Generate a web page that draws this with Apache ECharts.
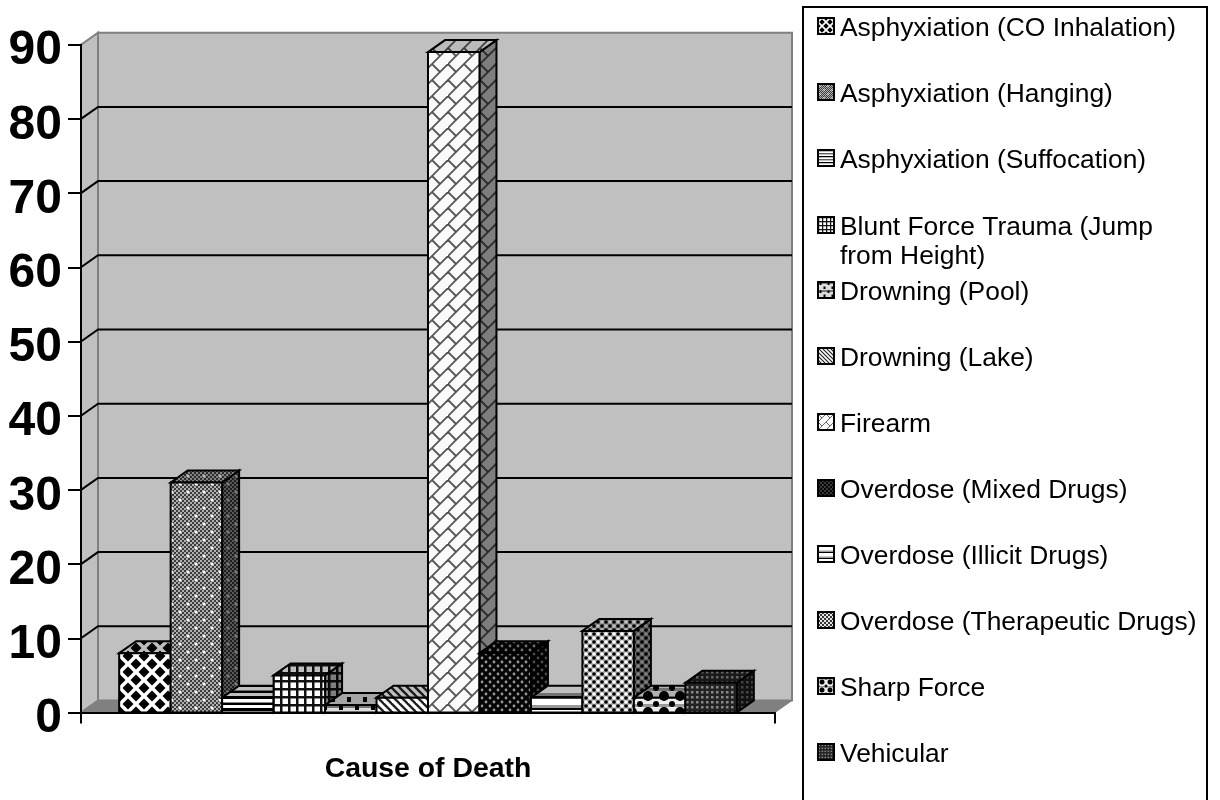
<!DOCTYPE html>
<html>
<head>
<meta charset="utf-8">
<style>
  html, body { margin: 0; padding: 0; background: #fff; }
  #main { width: 1220px; height: 800px; }
</style>
<script src="https://cdn.jsdelivr.net/npm/echarts@6/dist/echarts.min.js"></script>
</head>
<body>
<div id="main"></div>
<script>
const categories = ["Cause of Death"];
const causes = [
  "Asphyxiation (CO Inhalation)",
  "Asphyxiation (Hanging)",
  "Asphyxiation (Suffocation)",
  "Blunt Force Trauma (Jump from Height)",
  "Drowning (Pool)",
  "Drowning (Lake)",
  "Firearm",
  "Overdose (Mixed Drugs)",
  "Overdose (Illicit Drugs)",
  "Overdose (Therapeutic Drugs)",
  "Sharp Force",
  "Vehicular",
];
const counts = [8, 31, 2, 5, 1, 2, 89, 8, 2, 11, 2, 4];
const yTicks = [10, 20, 30, 40, 50, 60, 70, 80];

const DEPTH_X = 17;
const DEPTH_Y = -12;
const BARS_SHARE = 0.89; // share of the category band taken by the 12 bars

// hatch tiles, all drawn on a canvas of size x size
function fillBg(c, s, color) {
  c.fillStyle = color;
  c.fillRect(0, 0, s, s);
}
function dot(c, x, y, r, color) {
  c.fillStyle = color;
  c.beginPath();
  c.arc(x, y, r, 0, Math.PI * 2);
  c.fill();
}
function stripes(c, s, rows) {
  let y = 0;
  rows.forEach(function (r) {
    c.fillStyle = r[0];
    c.fillRect(0, y, s, r[1]);
    y += r[1];
  });
}
function line(c, x0, y0, x1, y1) {
  c.beginPath();
  c.moveTo(x0, y0);
  c.lineTo(x1, y1);
  c.stroke();
}

const hatches = [
  { // diamonds
    size: 16,
    draw: function (c, s) {
      fillBg(c, s, "#fff");
      c.fillStyle = "#000";
      [[0, 0], [16, 0], [0, 16], [16, 16], [8, 8]].forEach(function (p) {
        c.beginPath();
        c.moveTo(p[0] - 5.5, p[1]);
        c.lineTo(p[0], p[1] - 5.5);
        c.lineTo(p[0] + 5.5, p[1]);
        c.lineTo(p[0], p[1] + 5.5);
        c.fill();
      });
    },
  },
  { // fine check with white dots
    size: 16,
    draw: function (c, s) {
      fillBg(c, s, "#3c3c3c");
      c.fillStyle = "#b0b0b0";
      for (let y = 0; y < s; y += 2) {
        for (let x = y % 4; x < s; x += 4) {
          c.fillRect(x, y, 2, 2);
        }
      }
      dot(c, 4, 4, 1.5, "#fff");
      dot(c, 12, 12, 1.5, "#fff");
    },
  },
  { // uneven stripes
    size: 12,
    draw: function (c, s) {
      stripes(c, s, [["#000", 3], ["#fff", 3], ["#888", 1], ["#000", 2], ["#fff", 3]]);
    },
  },
  { // plaid
    size: 8,
    draw: function (c, s) {
      fillBg(c, s, "#fff");
      c.fillStyle = "#111";
      c.fillRect(0, 0, 2.5, s);
      c.fillRect(0, 0, s, 2.5);
    },
  },
  { // squares on light ground
    size: 16,
    draw: function (c, s) {
      fillBg(c, s, "#ddd");
      c.fillStyle = "#777";
      c.fillRect(0, 0, s, 4);
      c.fillStyle = "#000";
      c.fillRect(3, 1, 4, 5);
      c.fillRect(11, 9, 4, 5);
    },
  },
  { // diagonal stripes
    size: 8,
    draw: function (c, s) {
      fillBg(c, s, "#fff");
      c.strokeStyle = "#222";
      c.lineWidth = 2.4;
      line(c, -2, -2, 10, 10);
      line(c, -10, -2, 2, 10);
      line(c, 6, -2, 18, 10);
    },
  },
  { // slanted brick
    size: 32,
    draw: function (c, s) {
      fillBg(c, s, "#fafafa");
      c.strokeStyle = "#555";
      c.lineWidth = 1.8;
      [0, 16, 32, 48].forEach(function (k) {
        line(c, -2, k + 2, k + 2, -2);
      });
      [[0, 0], [16, 16], [16, 0], [0, 16]].forEach(function (p) {
        line(c, p[0], p[1], p[0] + 8, p[1] + 8);
      });
    },
  },
  { // dark ground, grey dots
    size: 8,
    draw: function (c, s) {
      fillBg(c, s, "#050505");
      dot(c, 2, 2, 1.4, "#999");
      dot(c, 6, 6, 1.4, "#999");
    },
  },
  { // stripes
    size: 12,
    draw: function (c, s) {
      stripes(c, s, [["#000", 2], ["#fff", 7], ["#999", 3]]);
    },
  },
  { // black and white dots on grey
    size: 8,
    draw: function (c, s) {
      fillBg(c, s, "#aaa");
      dot(c, 2, 2, 1.8, "#000");
      dot(c, 6, 6, 1.8, "#000");
      dot(c, 6, 2, 1.8, "#fff");
      dot(c, 2, 6, 1.8, "#fff");
    },
  },
  { // circles
    size: 16,
    draw: function (c, s) {
      fillBg(c, s, "#eee");
      c.fillStyle = "#999";
      c.fillRect(0, 0, s, 3);
      dot(c, 8, 8, 5, "#000");
      dot(c, 0, 0, 3, "#000");
      dot(c, 16, 0, 3, "#000");
      dot(c, 0, 16, 3, "#000");
      dot(c, 16, 16, 3, "#000");
    },
  },
  { // small grid
    size: 5,
    draw: function (c, s) {
      fillBg(c, s, "#222");
      c.fillStyle = "#888";
      c.fillRect(1, 1, 2.5, 2.5);
    },
  },
];

function makePattern(hatch, shade, scale) {
  const px = Math.max(2, Math.round(hatch.size * scale));
  const cv = document.createElement("canvas");
  cv.width = px;
  cv.height = px;
  const c = cv.getContext("2d");
  c.scale(px / hatch.size, px / hatch.size);
  hatch.draw(c, hatch.size);
  if (shade > 0) {
    c.fillStyle = "rgba(0,0,0," + shade + ")";
    c.fillRect(0, 0, hatch.size, hatch.size);
  }
  return { image: cv, repeat: "repeat" };
}

const fronts = hatches.map(function (h) { return makePattern(h, 0, 1); });
const tops = hatches.map(function (h) { return makePattern(h, 0.25, 1); });
const sides = hatches.map(function (h) { return makePattern(h, 0.5, 1); });
const swatches = hatches.map(function (h) { return makePattern(h, 0, 0.5); });

function poly(points, fill, stroke, lineWidth) {
  return {
    type: "polygon",
    shape: { points: points },
    style: { fill: fill, stroke: stroke, lineWidth: lineWidth, lineJoin: "miter" },
  };
}

function renderWalls(params, api) {
  const left = params.coordSys.x;
  const right = left + params.coordSys.width;
  const base = api.coord([0, 0])[1];
  const top = api.coord([0, 90])[1];
  const children = [
    poly([[left, base], [left + DEPTH_X, base + DEPTH_Y], [left + DEPTH_X, top + DEPTH_Y], [left, top]], "#c0c0c0", "#808080", 2),
    poly([[left + DEPTH_X, base + DEPTH_Y], [right + DEPTH_X, base + DEPTH_Y], [right + DEPTH_X, top + DEPTH_Y], [left + DEPTH_X, top + DEPTH_Y]], "#c0c0c0", "#808080", 2),
    poly([[left, base], [right, base], [right + DEPTH_X, base + DEPTH_Y], [left + DEPTH_X, base + DEPTH_Y]], "#808080", "#808080", 1),
  ];
  yTicks.forEach(function (v) {
    const y = api.coord([0, v])[1];
    children.push({
      type: "polyline",
      shape: { points: [[left, y], [left + DEPTH_X, y + DEPTH_Y], [right + DEPTH_X, y + DEPTH_Y]] },
      style: { fill: "none", stroke: "#000", lineWidth: 2 },
    });
  });
  return { type: "group", children: children };
}

function renderBar(index) {
  return function (params, api) {
    const band = api.size([1, 0])[0];
    const w = (band * BARS_SHARE) / causes.length;
    const c = api.coord([api.value(0), 0]);
    const t = api.coord([api.value(0), api.value(1)]);
    const x0 = c[0] - (w * causes.length) / 2 + index * w;
    const x1 = x0 + w;
    const y0 = c[1];
    const y1 = t[1];
    return {
      type: "group",
      children: [
        poly([[x1, y0], [x1 + DEPTH_X, y0 + DEPTH_Y], [x1 + DEPTH_X, y1 + DEPTH_Y], [x1, y1]], sides[index], "#000", 2),
        poly([[x0, y1], [x0 + DEPTH_X, y1 + DEPTH_Y], [x1 + DEPTH_X, y1 + DEPTH_Y], [x1, y1]], tops[index], "#000", 2),
        poly([[x0, y0], [x1, y0], [x1, y1], [x0, y1]], fronts[index], "#000", 2),
      ],
    };
  };
}

const series = [
  {
    type: "custom",
    name: "walls",
    z: 1,
    clip: false,
    silent: true,
    renderItem: renderWalls,
    data: [[0, 0]],
  },
].concat(
  causes.map(function (name, i) {
    return {
      type: "custom",
      name: name,
      z: 2,
      clip: false,
      renderItem: renderBar(i),
      encode: { x: 0, y: 1 },
      data: [[0, counts[i]]],
    };
  })
);

const legendFont = {
  color: "#000",
  fontFamily: "Liberation Sans",
  fontSize: 26.4,
  lineHeight: 30,
};

// one legend per entry: the pitch stays even although one label wraps
const legends = causes.map(function (name, i) {
  const wraps = name.indexOf(" from ") > 0;
  const centre = 25 + 66 * i;
  return {
    data: [{
      name: name,
      icon: "rect",
      itemStyle: { color: swatches[i], borderColor: "#000", borderWidth: 2 },
    }],
    left: 817,
    top: wraps ? centre - 41 : centre - 15,
    padding: 0,
    itemWidth: 16,
    itemHeight: 16,
    itemGap: 0,
    selectedMode: false,
    // the blank first line keeps the icon beside the first line of the label
    formatter: function (n) {
      if (n.indexOf(" from ") > 0) {
        const parts = n.split(" from ");
        return "{e| }\n{t|" + parts[0] + "}\n{u|from " + parts[1] + "}";
      }
      return "{t|" + n + "}";
    },
    textStyle: {
      rich: {
        e: legendFont,
        t: Object.assign({ padding: [6, 0, 0, 1] }, legendFont),
        u: Object.assign({ padding: [3, 0, 0, 1] }, legendFont),
      },
    },
  };
});

const chart = echarts.init(document.getElementById("main"), null, { renderer: "canvas" });
chart.setOption({
  animation: false,
  backgroundColor: "#fff",
  tooltip: { show: false },
  legend: legends,
  grid: { left: 81, width: 694, top: 44.7, bottom: 87.5, containLabel: false },
  xAxis: {
    type: "category",
    data: categories,
    z: 5,
    axisLine: { lineStyle: { color: "#000", width: 2 } },
    axisTick: { show: true, length: 11, lineStyle: { color: "#000", width: 2 } },
    axisLabel: {
      margin: 43,
      color: "#000",
      fontFamily: "Liberation Sans",
      fontWeight: "bold",
      fontSize: 28.4,
    },
  },
  yAxis: {
    type: "value",
    min: 0,
    max: 90,
    interval: 10,
    z: 5,
    splitLine: { show: false },
    axisLine: { show: true, lineStyle: { color: "#000", width: 2 } },
    axisTick: { show: true, length: 13, lineStyle: { color: "#000", width: 2 } },
    axisLabel: {
      margin: 19,
      formatter: "{v|{value}}",
      rich: {
        v: {
          color: "#000",
          fontFamily: "Liberation Sans",
          fontWeight: "bold",
          fontSize: 48,
          padding: [13, 0, 0, 0],
        },
      },
    },
  },
  graphic: [
    {
      type: "rect",
      z: -1,
      shape: { x: 803, y: 7, width: 404, height: 800 },
      style: { fill: "#fff", stroke: "#000", lineWidth: 2 },
    },
  ],
  series: series,
});
</script>
</body>
</html>
